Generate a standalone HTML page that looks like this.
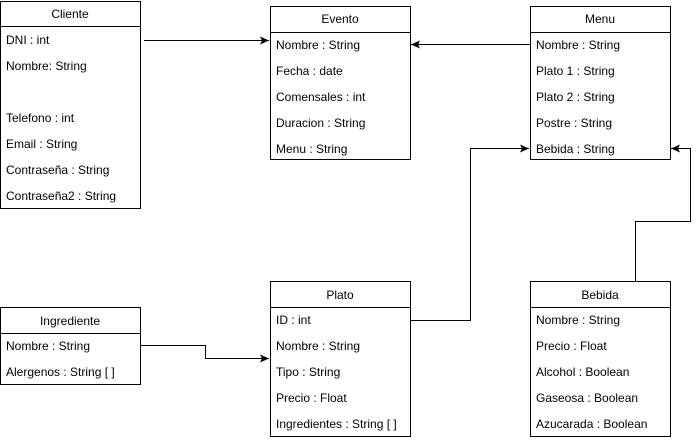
<!DOCTYPE html>
<html><head><style>body{margin:0;background:#fff}svg{display:block}text{font-family:"Liberation Sans",Arial,sans-serif;font-size:12px;fill:#000}</style></head><body>
<svg width="699" height="440" viewBox="0 0 699 440">
<defs><marker id="a" markerWidth="10" markerHeight="8" refX="9" refY="4" orient="auto" markerUnits="userSpaceOnUse"><path d="M0,0 L9,4 L0,8 L2,4 Z" fill="#000"/></marker></defs>
<g fill="#fff" stroke="#000" stroke-width="1">
<rect x="0.5" y="1.5" width="140" height="207"/><line x1="0.5" y1="26.5" x2="140.5" y2="26.5"/>
<rect x="270.5" y="6.5" width="140" height="153"/><line x1="270.5" y1="32.5" x2="410.5" y2="32.5"/>
<rect x="530.5" y="6.5" width="140" height="153"/><line x1="530.5" y1="32.5" x2="670.5" y2="32.5"/>
<rect x="0.5" y="307.5" width="140" height="77"/><line x1="0.5" y1="333.5" x2="140.5" y2="333.5"/>
<rect x="270.5" y="281.5" width="140" height="155"/><line x1="270.5" y1="307.5" x2="410.5" y2="307.5"/>
<rect x="530.5" y="281.5" width="140" height="155"/><line x1="530.5" y1="307.5" x2="670.5" y2="307.5"/>
</g>
<g fill="none" stroke="#000" stroke-width="1">
<path d="M144,40.5 L269,40.5" marker-end="url(#a)"/>
<path d="M530,44.5 L411,44.5" marker-end="url(#a)"/>
<path d="M410,320.5 L470.5,320.5 L470.5,148.5 L529,148.5" marker-end="url(#a)"/>
<path d="M635.5,281 L635.5,221.5 L690.5,221.5 L690.5,148.5 L671,148.5" marker-end="url(#a)"/>
<path d="M141,345.5 L205.5,345.5 L205.5,358.5 L269,358.5" marker-end="url(#a)"/>
</g>
<g text-anchor="middle">
<text x="70" y="18">Cliente</text><text x="340" y="23">Evento</text><text x="600" y="23">Menu</text>
<text x="70" y="325">Ingrediente</text><text x="340" y="299">Plato</text><text x="600" y="299">Bebida</text>
</g>
<g>
<text x="6" y="44">DNI : int</text><text x="6" y="70">Nombre: String</text><text x="6" y="122">Telefono : int</text><text x="6" y="148">Email : String</text><text x="6" y="174">Contraseña : String</text><text x="6" y="200">Contraseña2 : String</text>
<text x="276" y="49">Nombre : String</text><text x="276" y="75">Fecha : date</text><text x="276" y="101">Comensales : int</text><text x="276" y="127">Duracion : String</text><text x="276" y="153">Menu : String</text>
<text x="536" y="49">Nombre : String</text><text x="536" y="75">Plato 1 : String</text><text x="536" y="101">Plato 2 : String</text><text x="536" y="127">Postre : String</text><text x="536" y="153">Bebida : String</text>
<text x="6" y="350">Nombre : String</text><text x="6" y="376">Alergenos : String [ ]</text>
<text x="276" y="324">ID : int</text><text x="276" y="350">Nombre : String</text><text x="276" y="376">Tipo : String</text><text x="276" y="402">Precio : Float</text><text x="276" y="428">Ingredientes : String [ ]</text>
<text x="536" y="324">Nombre : String</text><text x="536" y="350">Precio : Float</text><text x="536" y="376">Alcohol : Boolean</text><text x="536" y="402">Gaseosa : Boolean</text><text x="536" y="428">Azucarada : Boolean</text>
</g>
</svg>
</body></html>
